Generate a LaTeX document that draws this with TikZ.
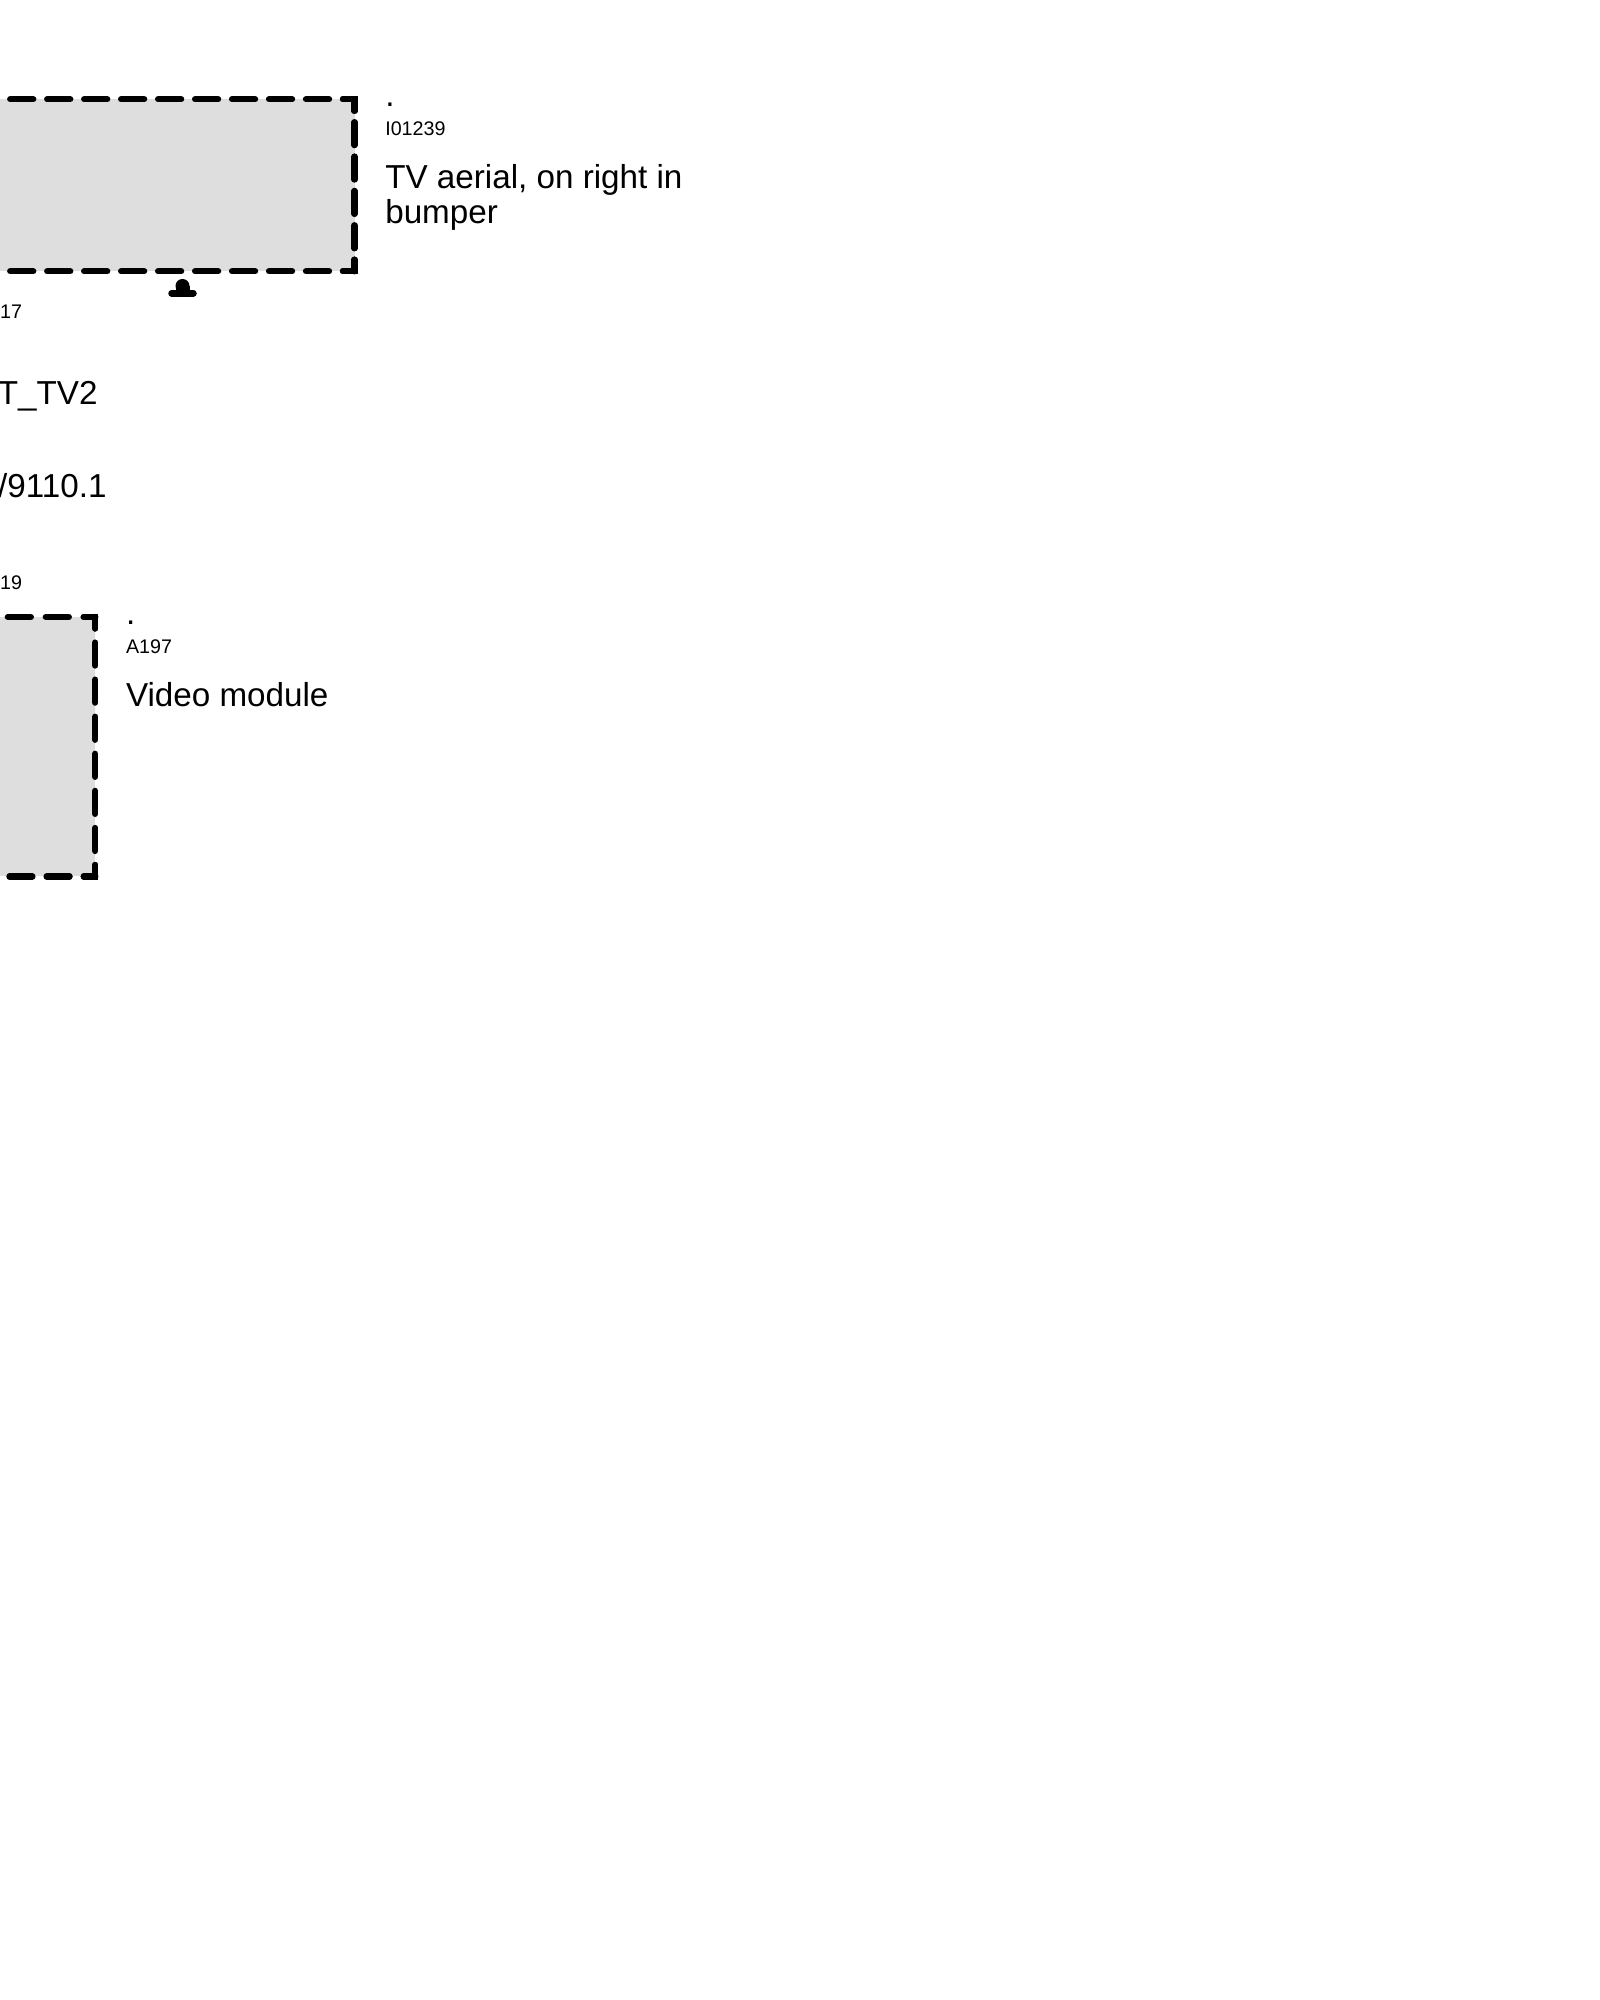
\documentclass[tikz,border=0pt]{standalone}
\usepackage{fontspec}
\setmainfont{Liberation Sans}
\definecolor{boxgray}{HTML}{DEDEDE}
\tikzset{
  boxfill/.style={fill=boxgray,draw=none},
  boxcorner/.style={line width=1.8pt,line cap=round,line join=miter},
  boxdash/.style={boxcorner,dash pattern=on 6.54pt off #1,dash phase=3.27pt},
  bigtext/.style={anchor=base west,inner sep=0pt,outer sep=0pt,font=\fontsize{9.45pt}{9.96pt}\selectfont,align=left},
  smalltext/.style={anchor=base west,inner sep=0pt,outer sep=0pt,font=\fontsize{5.6pt}{6pt}\selectfont},
  cutbig/.style={bigtext,anchor=base east},
  cutsmall/.style={smalltext,anchor=base east}
}
\begin{document}
\begin{tikzpicture}[line cap=round,line join=round,x=1.0cm,y=1.0cm]
    \useasboundingbox (0,0) rectangle (16,20);
    \clip (0,0) rectangle (16,20);
    % aerial box
    \fill[boxfill] (-0.5,19.007) rectangle (3.545,17.287);
    \draw[boxdash=3.98pt] (3.545,19.007) -- (-0.5,19.007);
    \draw[boxdash=3.24pt] (3.545,19.007) -- (3.545,17.287);
    \draw[boxdash=3.98pt] (3.545,17.287) -- (-0.5,17.287);
    \draw[boxcorner] (3.43,19.007) -- (3.545,19.007) -- (3.545,18.892);
    \draw[boxcorner] (3.43,17.287) -- (3.545,17.287) -- (3.545,17.402);
    % aerial symbol
    \fill (1.825,17.14) circle (0.07);
    \fill (1.755,17.07) rectangle (1.895,17.14);
    \draw[line width=1.85pt] (1.715,17.067) -- (1.935,17.067);
    \node[bigtext] (dotaerial) at (3.853,18.935) {.};
    \node[smalltext] (codeaerial) at (3.853,18.64) {I01239};
    \node[bigtext] (textaerial) at (3.853,17.76) {TV aerial, on right in\\bumper};
    \node[cutsmall] (pinaerial) at (0.22,16.817) {17};
    \node[cutbig] (wirename) at (0.975,15.951) {T\_TV2};
    \node[cutbig] (wirecode) at (1.065,15.025) {/9110.1};
    \node[cutsmall] (pinvideo) at (0.22,14.103) {19};
    % video box
    \fill[boxfill] (-0.5,13.83) rectangle (0.953,11.235);
    \draw[boxdash=4.27pt] (0.953,13.83) -- (-0.5,13.83);
    \draw[boxdash=4.01pt] (0.953,13.83) -- (0.953,11.235);
    \draw[boxdash=4.04pt] (0.953,11.235) -- (-0.5,11.235);
    \draw[boxcorner] (0.838,13.83) -- (0.953,13.83) -- (0.953,13.715);
    \draw[boxcorner] (0.838,11.235) -- (0.953,11.235) -- (0.953,11.35);
    \node[bigtext] (dotvideo) at (1.26,13.755) {.};
    \node[smalltext] (codevideo) at (1.26,13.467) {A197};
    \node[bigtext] (textvideo) at (1.26,12.93) {Video module};
\end{tikzpicture}
\end{document}
